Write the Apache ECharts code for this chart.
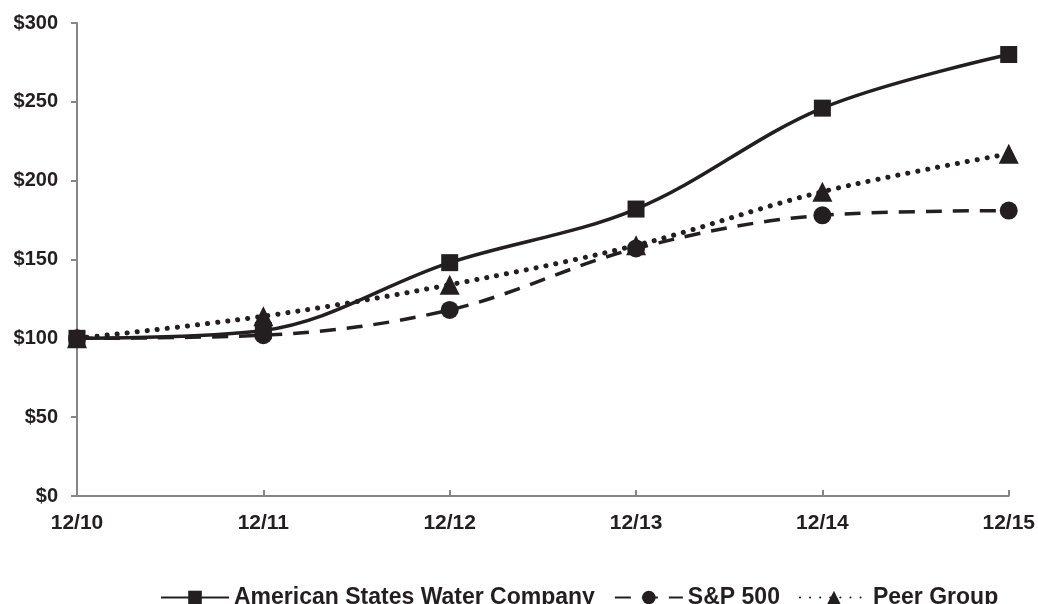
<!DOCTYPE html>
<html><head><meta charset="utf-8">
<script src="https://cdn.jsdelivr.net/npm/echarts@6/dist/echarts.min.js"></script>
<style>html,body{margin:0;padding:0;background:#fff}#c{width:1038px;height:604px}</style>
</head><body><div id="c"></div>
<script>
const categories = ['12/10','12/11','12/12','12/13','12/14','12/15'];
const awr = [100, 105, 148, 182, 246, 280];
const sp500 = [100, 102, 118, 157, 178, 181];
const peer = [100, 114, 134, 159, 193, 217];
const seriesNames = ['American States Water Company', 'S&P 500', 'Peer Group'];

const ink = '#231f20';
const axisGray = '#868686';
const font = '"Liberation Sans", Arial, sans-serif';
const chart = echarts.init(document.getElementById('c'));
chart.setOption({
  animation: false,
  backgroundColor: '#fff',
  grid: {left: 77, right: 27, top: 23, bottom: 108, containLabel: false},
  xAxis: {
    type: 'category', data: categories, boundaryGap: false,
    axisLine: {lineStyle: {color: axisGray, width: 2}},
    axisTick: {inside: true, length: 6, lineStyle: {color: axisGray, width: 2}},
    axisLabel: {color: ink, fontFamily: font, fontWeight: 'bold', fontSize: 21, margin: 17}
  },
  yAxis: {
    type: 'value', min: 0, max: 300, interval: 50,
    splitLine: {show: false},
    axisLine: {show: true, lineStyle: {color: axisGray, width: 2}},
    axisTick: {show: true, length: 6, lineStyle: {color: axisGray, width: 2}},
    axisLabel: {color: ink, fontFamily: font, fontWeight: 'bold', fontSize: 20, margin: 19, formatter: v => '$' + v}
  },
  legend: {
    top: 581, left: 155, itemWidth: 68, itemHeight: 17, itemGap: 19,
    textStyle: {color: ink, fontFamily: font, fontWeight: 'bold', fontSize: 23},
    data: seriesNames
  },
  series: [
    {name: seriesNames[0], type: 'line', data: awr, smooth: 0.35, symbol: 'rect', symbolSize: 17,
     itemStyle: {color: ink}, lineStyle: {color: ink, width: 3.5}, z: 3},
    {name: seriesNames[1], type: 'line', data: sp500, smooth: 0.35, symbol: 'circle', symbolSize: 18,
     itemStyle: {color: ink}, lineStyle: {color: ink, width: 3.5, type: [16, 11]}, z: 2},
    {name: seriesNames[2], type: 'line', data: peer, smooth: 0.35, symbol: 'triangle', symbolSize: 20,
     itemStyle: {color: ink}, lineStyle: {color: ink, width: 5, type: [0.1, 10], cap: 'round'}, z: 2}
  ]
});
</script></body></html>
